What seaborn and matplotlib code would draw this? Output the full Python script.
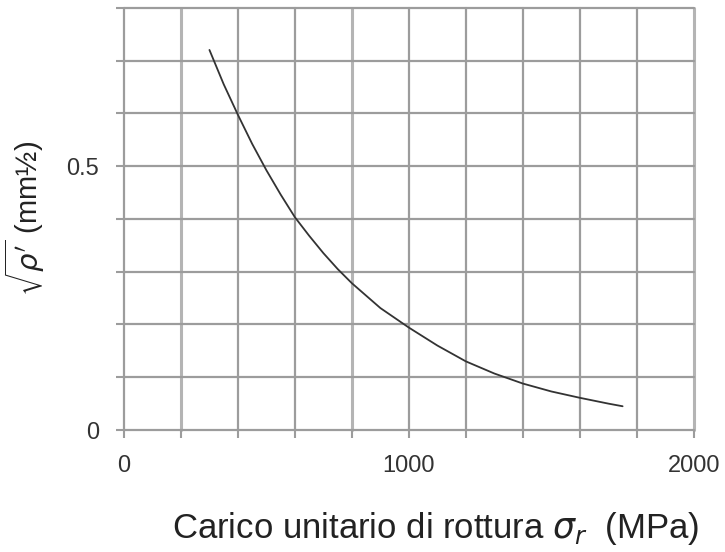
import matplotlib
matplotlib.use("Agg")
import matplotlib.pyplot as plt
import seaborn as sns
import pandas as pd

# data
sigma_r = [300, 350, 400, 450, 500, 550, 600, 650, 700, 750, 800, 900, 1000,
           1100, 1200, 1300, 1400, 1500, 1600, 1700, 1750]
sqrt_rho = [0.72, 0.655, 0.597, 0.542, 0.492, 0.446, 0.403, 0.368, 0.335, 0.305,
            0.278, 0.231, 0.194, 0.160, 0.130, 0.107, 0.088, 0.073, 0.061, 0.050, 0.045]

x_ticks = [0, 200, 400, 600, 800, 1000, 1200, 1400, 1600, 1800, 2000]
x_tick_labels = ["0", "", "", "", "", "1000", "", "", "", "", "2000"]
y_ticks = [0, 0.1, 0.2, 0.3, 0.4, 0.5, 0.6, 0.7, 0.8]
y_tick_labels = ["0", "", "", "", "", "0.5", "", "", ""]

sns.set_style("white")
plt.rcParams["font.family"] = ["Liberation Sans", "DejaVu Sans"]
plt.rcParams["mathtext.fontset"] = "dejavusans"

df = pd.DataFrame({"sigma": sigma_r, "rho": sqrt_rho})

fig = plt.figure(figsize=(7.25, 5.52), dpi=100)
ax = fig.add_axes([0.171, 0.221, 0.786, 0.765])

sns.lineplot(data=df, x="sigma", y="rho", ax=ax, color="#333333", linewidth=1.3)

ax.set_xlim(0, 2000)
ax.set_ylim(0, 0.8)
ax.set_xticks(x_ticks)
ax.set_xticklabels(x_tick_labels)
ax.set_yticks(y_ticks)
ax.set_yticklabels(y_tick_labels)
ax.grid(True, color="#9c9c9c", linewidth=1.6)
ax.set_axisbelow(True)
for gl in ax.get_xgridlines() + ax.get_ygridlines():
    gl.set_clip_on(False)
# a few vertical grid lines look lighter in the reference
for i, gl in enumerate(ax.get_xgridlines()):
    if x_ticks[i] in (200, 800, 2000):
        gl.set_color("#b4b4b4")
        gl.set_linewidth(2.2)
for s in ax.spines.values():
    s.set_visible(False)
ax.tick_params(axis="both", bottom=True, left=True, direction="out",
               length=6, width=1.5, color="#9c9c9c",
               labelsize=17, labelcolor="#333333", pad=12)

ax.set_xlabel(r"Carico unitario di rottura $\sigma_r$  (MPa)", fontsize=25,
              color="#222222")
ax.xaxis.set_label_coords(0.547, -0.19)
ax.set_ylabel(r"$\sqrt{\rho'}$ (mm½)", fontsize=21, color="#222222", labelpad=14)

fig.savefig("out.png", dpi=100)
